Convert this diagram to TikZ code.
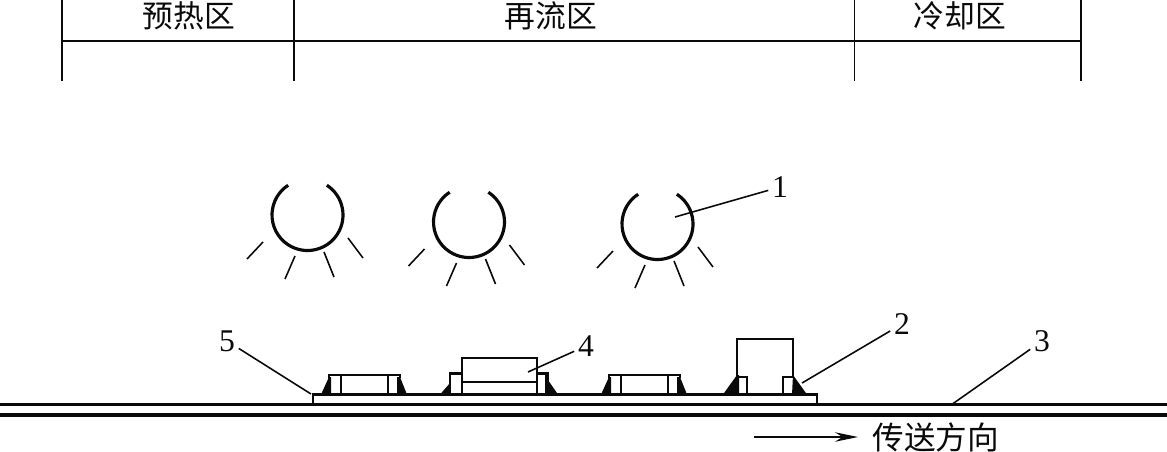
\documentclass[tikz,border=0pt]{standalone}
\usepackage{fontspec}
\setmainfont{Liberation Serif}
\newfontfamily\cjk{Noto Sans CJK SC}
\usetikzlibrary{arrows.meta,positioning}
\definecolor{inkc}{HTML}{0A0A0A}
\tikzset{
  ar/.style={-{Stealth[length=4.6mm,width=1.9mm]},line width=.9pt,inkc},
  rail/.style={line width=1.9pt,inkc},
  rule/.style={line width=1.1pt,inkc},
  lamp/.style={line width=1.8pt,inkc},
  ray/.style={line width=.9pt,inkc},
  part/.style={line width=1.5pt,inkc},
  thin part/.style={line width=1.1pt,inkc},
  lead/.style={line width=.9pt,inkc},
  num/.style={font=\fontsize{18}{18}\selectfont,inkc,inner sep=2pt},
  zone/.style={font=\cjk\fontsize{17.5}{18}\selectfont,inkc,inner sep=0pt}
}
\begin{document}
\begin{tikzpicture}[x=0.02cm,y=0.02cm]
\useasboundingbox (0,0) rectangle (1167,-451);
\draw[rule] (62,-41) -- (1081,-41);
\foreach \x/\w in {62/1.1pt,294/1.1pt,854/.5pt,1081/1.1pt}{
 \draw[inkc,line width=\w] (\x,0) -- (\x,-81);}
\node[zone] (preheat) at (189,-16) {预热区};
\node[zone] (reflow) at (551,-16) {再流区};
\node[zone] (cooling) at (960,-16) {冷却区};
\foreach \cx/\cy in {307.5/-215,469/-222,657.5/-224}{
 \draw[lamp] ([shift={(57:35.5)}]\cx,\cy) arc[start angle=57,end angle=-237,radius=35.5];
 \draw[ray] ({\cx-44.5},{\cy-27}) -- ({\cx-60.5},{\cy-44});
 \draw[ray] ({\cx-12.5},{\cy-41}) -- ({\cx-22.5},{\cy-64});
 \draw[ray] ({\cx+16.5},{\cy-37}) -- ({\cx+26.5},{\cy-62});
 \draw[ray] ({\cx+40.5},{\cy-23}) -- ({\cx+55.5},{\cy-43});}
\draw[rail] (0,-404.5) -- (1167,-404.5);
\draw[rail] (0,-415) -- (1167,-415);
\draw[part] (313,-404.5) -- (313,-394.5) -- (817,-394.5) -- (817,-404.5);
\foreach \dx in {0,280}{
 \fill[inkc] (\dx+321,-394.5) -- (\dx+329,-377) -- (\dx+331,-377) -- (\dx+331,-394.5) -- cycle;
 \fill[inkc] (\dx+407,-394.5) -- (\dx+400,-377) -- (\dx+397,-377) -- (\dx+397,-394.5) -- cycle;
 \draw[part] (\dx+329,-394) -- (\dx+329,-375) -- (\dx+400,-375) -- (\dx+400,-378);
 \draw[part] (\dx+341,-375) -- (\dx+341,-394);
 \draw[part] (\dx+388,-375) -- (\dx+388,-394);}
\fill[inkc] (440,-394.5) -- (450,-383) -- (450,-394.5) -- cycle;
\fill[inkc] (558,-394.5) -- (548,-380) -- (546,-380) -- (546,-394.5) -- cycle;
\draw[part] (462,-382) rectangle (537,-358);
\draw[thin part] (462,-382) -- (462,-394);
\draw[thin part] (537,-382) -- (537,-394);
\draw[part] (450,-394) -- (450,-373.5) -- (462,-373.5);
\draw[part] (537,-373.5) -- (548,-373.5) -- (548,-382);
\draw[thin part] (546,-374) -- (546,-394);
\fill[inkc] (723,-394.5) -- (737,-375) -- (739,-375) -- (739,-394.5) -- cycle;
\fill[inkc] (807,-394.5) -- (793,-375) -- (792,-394.5) -- cycle;
\draw[part] (737,-377) -- (737,-339) -- (793,-339) -- (793,-377);
\draw[part] (739,-377) -- (747,-377) -- (747,-394);
\draw[part] (793,-377) -- (783,-377) -- (783,-394);
\node[num] (n1) at (780,-187) {1};
\node[num] (n2) at (902,-324) {2};
\node[num] (n3) at (1042,-341) {3};
\node[num] (n4) at (586,-346) {4};
\node[num] (n5) at (227,-341) {5};
\coordinate (t1) at (675,-217);
\coordinate (t2) at (802,-383);
\coordinate (t3) at (951,-405);
\coordinate (t4) at (528,-372);
\coordinate (t5) at (311,-394);
\foreach \k in {1,...,5}{\draw[lead] (n\k) -- (t\k);}
\coordinate (a0) at (754,-437);
\node[zone,anchor=west,font=\cjk\fontsize{18}{18}\selectfont,inner xsep=8pt] (dir) at (858,-437) {传送方向};
\draw[ar] (a0) -- (dir.west);
\end{tikzpicture}
\end{document}
